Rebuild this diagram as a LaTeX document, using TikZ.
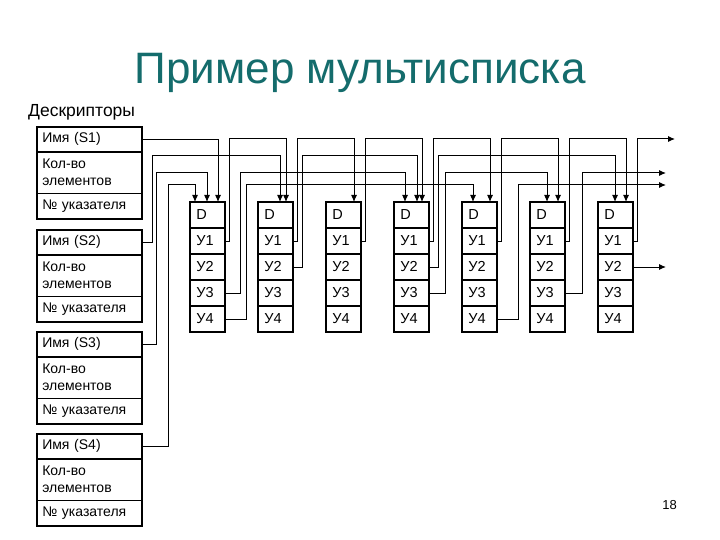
\documentclass[tikz,border=0pt]{standalone}
\usepackage{fontspec}
\setmainfont{Liberation Sans}
\usetikzlibrary{arrows.meta,calc}
\definecolor{titlecol}{RGB}{20,108,108}
\begin{document}
\begin{tikzpicture}[x=1pt,y=-1pt,
  ptr/.style={line width=1pt,-{Latex[length=7pt,width=6pt]}},
  drow/.style={draw,line width=0.6pt,text width=94pt,inner xsep=5pt,inner ysep=0pt,
    align=left,font=\fontsize{14}{17}\selectfont,anchor=north},
  frow/.style={draw,line width=0.6pt,text width=22pt,inner xsep=6pt,inner ysep=0pt,
    minimum height=25.4pt,align=left,font=\fontsize{14.5}{16}\selectfont,anchor=north},
  outer/.style={line width=1.8pt}]
\useasboundingbox[fill=white] (0,0) rectangle (720,540);

% titles
\node[anchor=base,text=titlecol,font=\fontsize{44}{50}\selectfont,inner sep=0pt] (title) at (360,84) {Пример мультисписка};
\node[anchor=base west,font=\fontsize{17.5}{20}\selectfont,inner sep=0pt] (desc) at (28,117) {Дескрипторы};
\node[anchor=base east,font=\fontsize{13}{16}\selectfont,inner sep=0pt] (pnum) at (677,509) {18};

% descriptors
\foreach \s/\t in {1/127,2/230,3/332,4/434} {
  \node[drow,minimum height=24pt,anchor=north west] (N\s) at (37,\t) {Имя (S\s)};
  \node[drow,minimum height=41pt] (K\s) at (N\s.south) {Кол-во\\элементов};
  \node[drow,minimum height=25pt] (P\s) at (K\s.south) {№ указателя};
  \draw[outer] (N\s.north west) rectangle (P\s.south east);
}

% elements
\foreach \i in {1,...,7} {
  \node[frow,anchor=north west] (D\i) at ({190+68*(\i-1)},202) {D};
  \node[frow] (Ua\i) at (D\i.south) {У1};
  \node[frow] (Ub\i) at (Ua\i.south) {У2};
  \node[frow] (Uc\i) at (Ub\i.south) {У3};
  \node[frow] (Ud\i) at (Uc\i.south) {У4};
  \draw[outer] (D\i.north west) rectangle (Ud\i.south east);
}

% levels and list ends
\coordinate (L1) at (0,139);
\coordinate (L2) at (0,156);
\coordinate (L3) at (0,173);
\coordinate (L4) at (0,185);
\coordinate (nilA) at (675,139);
\coordinate (nilB) at (666,266);
\coordinate (nilC) at (666,173);
\coordinate (nilD) at (666,185);

% descriptor heads
\draw[ptr] (N1.east) -| ($(D1.north west)+(28,0)$);
\draw[ptr] (N2.east) -- ++(11,0) coordinate (t) -- (t |- L2) -| ($(D2.north west)+(22,0)$);
\draw[ptr] (N3.east) -- ++(15,0) coordinate (t) -- (t |- L3) -| ($(D1.north west)+(17,0)$);
\draw[ptr] (N4.east) -- ++(27,0) coordinate (t) -- (t |- L4) -| ($(D1.north west)+(5,0)$);

% list S1 (У1): 1-2-3-4-5-6-7
\foreach \a/\b in {1/2,2/3,3/4,4/5,5/6,6/7} {
  \draw[ptr] (Ua\a.east) -- ++(5,0) coordinate (t) -- (t |- L1) -| ($(D\b.north west)+(28,0)$);
}
\draw[ptr] (Ua7.east) -- ++(5,0) coordinate (t) -- (t |- L1) -- (nilA);

% list S2 (У2): 2-4-7
\draw[ptr] (Ub2.east) -- ++(10,0) coordinate (t) -- (t |- L2) -| ($(D4.north west)+(23,0)$);
\draw[ptr] (Ub4.east) -- ++(10,0) coordinate (t) -- (t |- L2) -| ($(D7.north west)+(17,0)$);
\draw[ptr] (Ub7.east) -- (Ub7.east -| nilB);

% list S3 (У3): 1-4-6
\draw[ptr] (Uc1.east) -- ++(16,0) coordinate (t) -- (t |- L3) -| ($(D4.north west)+(11,0)$);
\draw[ptr] (Uc4.east) -- ++(17,0) coordinate (t) -- (t |- L3) -| ($(D6.north west)+(17,0)$);
\draw[ptr] (Uc6.east) -- ++(18,0) coordinate (t) -- (t |- L3) -- (nilC);

% list S4 (У4): 1-5
\draw[ptr] (Ud1.east) -- ++(22,0) coordinate (t) -- (t |- L4) -| ($(D5.north west)+(11,0)$);
\draw[ptr] (Ud5.east) -- ++(22,0) coordinate (t) -- (t |- L4) -- (nilD);
\end{tikzpicture}
\end{document}
